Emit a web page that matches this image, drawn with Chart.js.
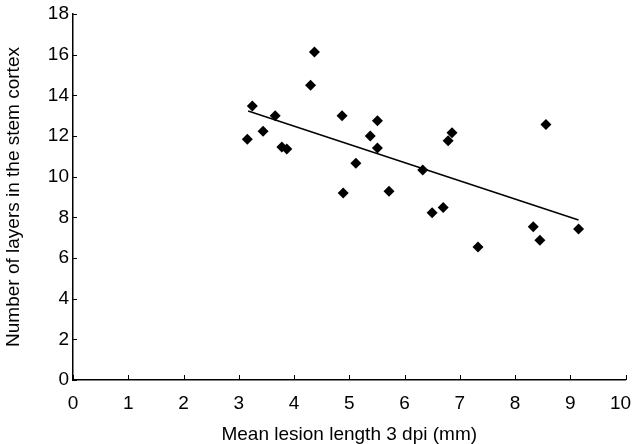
<!DOCTYPE html>
<html><head><meta charset="utf-8">
<script src="https://cdn.jsdelivr.net/npm/chart.js@4"></script>
<style>html,body{margin:0;padding:0;background:#fff}#wrap{width:633px;height:444px}</style>
</head><body><div id="wrap"><canvas id="c" width="633" height="444"></canvas></div>
<script>
// Data
const lesionLength = [3.155, 3.245, 3.44, 3.66, 3.78, 3.87, 4.30, 4.37, 4.87, 4.89, 5.12, 5.38, 5.51, 5.51, 5.72, 6.33, 6.50, 6.70, 6.79, 6.86, 7.33, 8.33, 8.45, 8.56, 9.15];
const layerCount   = [11.84, 13.48, 12.23, 13.0, 11.46, 11.36, 14.49, 16.13, 13.0, 9.2, 10.66, 12.0, 12.75, 11.41, 9.28, 10.33, 8.23, 8.48, 11.77, 12.16, 6.54, 7.54, 6.87, 12.56, 7.43];
const trendX = [3.17, 9.15];
const trendY = [13.23, 7.87];
const xTickValues = [0, 1, 2, 3, 4, 5, 6, 7, 8, 9, 10];
const yTickValues = [0, 2, 4, 6, 8, 10, 12, 14, 16, 18];
const xTitle = 'Mean lesion length 3 dpi (mm)';
const yTitle = 'Number of layers in the stem cortex';

const FONT = "'Liberation Sans', Arial, Helvetica, sans-serif";

const inwardTicks = {
  id: 'inwardTicks',
  beforeDraw(chart) {
    // keep the last x tick label ("10") inside the canvas edge
    const xs = chart.scales.x;
    const items = xs.getLabelItems(chart.chartArea);
    if (items.length) {
      const last = items[items.length - 1];
      const tr = last.options.translation;
      last.options = Object.assign({}, last.options, {translation: [tr[0] - 5, tr[1]]});
    }
  },
  afterDraw(chart) {
    const ctx = chart.ctx;
    const xs = chart.scales.x, ys = chart.scales.y;
    ctx.save();
    ctx.strokeStyle = '#000';
    ctx.lineWidth = 1;
    ctx.beginPath();
    xs.ticks.forEach(t => {
      const p = Math.round(xs.getPixelForValue(t.value)) + 0.5;
      ctx.moveTo(p, ys.bottom);
      ctx.lineTo(p, ys.bottom - 5);
    });
    ys.ticks.forEach(t => {
      const p = Math.round(ys.getPixelForValue(t.value)) + 0.5;
      ctx.moveTo(xs.left, p);
      ctx.lineTo(xs.left + 4, p);
    });
    ctx.stroke();
    ctx.restore();
  }
};

function noPad(s) { s.paddingLeft = 0; s.paddingRight = 0; s.paddingTop = 0; s.paddingBottom = 0; }

new Chart(document.getElementById('c'), {
  type: 'scatter',
  data: {
    datasets: [
      {
        label: 'points',
        data: lesionLength.map((x, i) => ({x: x, y: layerCount[i]})),
        pointStyle: 'rectRot',
        pointRadius: 5.5,
        pointBackgroundColor: '#000',
        pointBorderColor: '#000',
        pointBorderWidth: 0,
        showLine: false
      },
      {
        label: 'trend',
        data: trendX.map((x, i) => ({x: x, y: trendY[i]})),
        showLine: true,
        borderColor: '#000',
        borderWidth: 1.5,
        pointRadius: 0,
        fill: false
      }
    ]
  },
  options: {
    responsive: false,
    animation: false,
    layout: {padding: {top: 14, right: 7.5, left: 0, bottom: 0}},
    plugins: {legend: {display: false}, tooltip: {enabled: false}},
    scales: {
      x: {
        type: 'linear', min: 0, max: 10,
        afterBuildTicks: s => { s.ticks = xTickValues.map(v => ({value: v})); },
        afterFit: s => { s.height = 64; noPad(s); },
        grid: {display: false, drawTicks: false},
        border: {display: true, color: '#000', width: 1.5},
        ticks: {color: '#000', font: {family: FONT, size: 19}, padding: 12, maxRotation: 0, autoSkip: false},
        title: {display: true, text: xTitle, color: '#000', font: {family: FONT, size: 19, lineHeight: 1}, padding: {top: 0, bottom: 0}}
      },
      y: {
        type: 'linear', min: 0, max: 18,
        afterBuildTicks: s => { s.ticks = yTickValues.map(v => ({value: v})); },
        afterFit: s => { s.width = 73; noPad(s); },
        grid: {display: false, drawTicks: false},
        border: {display: true, color: '#000', width: 1.5},
        ticks: {color: '#000', font: {family: FONT, size: 19}, padding: 4, autoSkip: false},
        title: {display: true, text: yTitle, color: '#000', font: {family: FONT, size: 19, lineHeight: 1}, padding: {top: 4, bottom: 0}}
      }
    }
  },
  plugins: [inwardTicks]
});
</script>
</body></html>
